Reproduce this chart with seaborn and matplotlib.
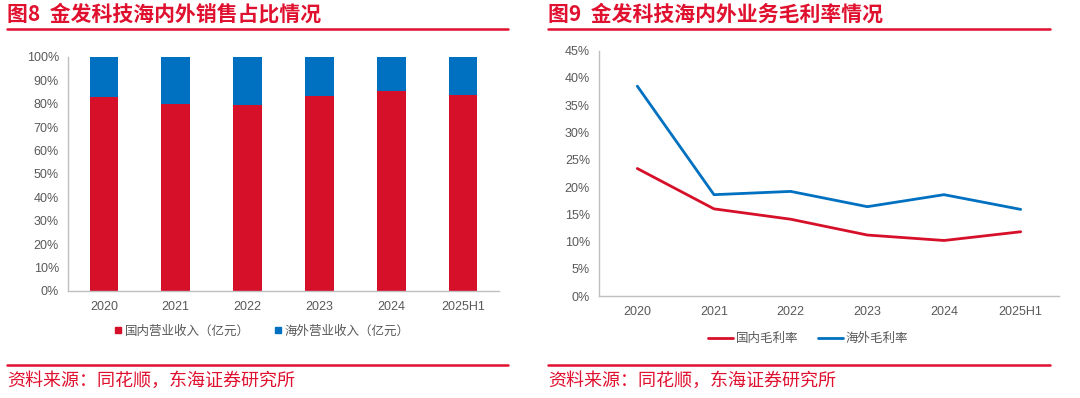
import numpy as np
import pandas as pd
import seaborn as sns
import matplotlib.pyplot as plt
from matplotlib.lines import Line2D
from matplotlib.ticker import FixedLocator, PercentFormatter

years = ["2020", "2021", "2022", "2023", "2024", "2025H1"]

# 图8: share of sales (%)
domestic_share = [82.9, 79.7, 79.4, 83.3, 85.3, 83.8]
overseas_share = [17.1, 20.3, 20.6, 16.7, 14.7, 16.2]

# 图9: gross margin (%)
domestic_margin = [23.4, 16.0, 14.1, 11.2, 10.2, 11.8]
overseas_margin = [38.5, 18.6, 19.2, 16.4, 18.6, 15.9]

RED = "#D7102A"
BLUE = "#0070C0"
TITLE_RED = "#E0102F"
GRAY_TXT = "#595959"
AXIS_GRAY = "#BFBFBF"

sns.set_style("white")
plt.rcParams["font.family"] = ["Liberation Sans", "Noto Sans CJK SC", "DejaVu Sans"]
CJK = ["Noto Sans CJK SC", "DejaVu Sans"]

fig = plt.figure(figsize=(10.8, 3.98), dpi=100)
ax1 = fig.add_axes([0.063, 0.269, 0.399, 0.588])
ax2 = fig.add_axes([0.5546, 0.256, 0.426, 0.6166])


def style_axis(ax, n):
    for s in ["top", "right"]:
        ax.spines[s].set_visible(False)
    for s in ["left", "bottom"]:
        ax.spines[s].set_color(AXIS_GRAY)
        ax.spines[s].set_linewidth(1)
    ax.set_xlim(-0.5, n - 0.5)
    ax.xaxis.set_minor_locator(FixedLocator(np.arange(-0.5, n, 1.0)))
    ax.tick_params(axis="x", which="major", length=0, labelsize=9, colors=GRAY_TXT, pad=7)
    ax.tick_params(axis="x", which="minor", length=4, color=AXIS_GRAY, direction="out")
    ax.tick_params(axis="y", length=3, color=AXIS_GRAY, labelsize=9, colors=GRAY_TXT, direction="out")
    ax.set_xlabel("")
    ax.set_ylabel("")


# stacked bars
df_bar = pd.DataFrame({"year": years, "dom": domestic_share, "ovs": overseas_share})
df_bar["total"] = df_bar["dom"] + df_bar["ovs"]
sns.barplot(data=df_bar, x="year", y="total", color=BLUE, width=0.4, saturation=1, ax=ax1, linewidth=0)
sns.barplot(data=df_bar, x="year", y="dom", color=RED, width=0.4, saturation=1, ax=ax1, linewidth=0)
style_axis(ax1, len(years))
ax1.set_ylim(0, 100)
ax1.set_yticks(np.arange(0, 101, 10))
ax1.yaxis.set_major_formatter(PercentFormatter(100, decimals=0))
ax1.legend(handles=[Line2D([], [], ls="", marker="s", ms=5, color=RED, label="国内营业收入（亿元）"),
                    Line2D([], [], ls="", marker="s", ms=5, color=BLUE, label="海外营业收入（亿元）")],
           loc="upper center", bbox_to_anchor=(0.45, -0.095), ncol=2, frameon=False,
           handlelength=0.5, handletextpad=0.3, columnspacing=2.0,
           prop={"family": CJK, "size": 9}, labelcolor=GRAY_TXT)

# lines
df_line = pd.DataFrame({"year": years * 2,
                        "val": domestic_margin + overseas_margin,
                        "series": ["国内毛利率"] * 6 + ["海外毛利率"] * 6})
sns.lineplot(data=df_line, x="year", y="val", hue="series", sort=False,
             palette={"国内毛利率": RED, "海外毛利率": BLUE}, linewidth=2, ax=ax2)
style_axis(ax2, len(years))
ax2.set_ylim(0, 45)
ax2.set_yticks(np.arange(0, 46, 5))
ax2.yaxis.set_major_formatter(PercentFormatter(100, decimals=0))
ax2.legend(loc="upper center", bbox_to_anchor=(0.455, -0.1), ncol=2, frameon=False,
           handlelength=2.0, handletextpad=0.2, columnspacing=1.6,
           prop={"family": CJK, "size": 9}, labelcolor=GRAY_TXT, title=None)

# titles, rules and sources
for x0, x1, title in [(0.0065, 0.470, "图8  金发科技海内外销售占比情况"),
                      (0.5075, 0.972, "图9  金发科技海内外业务毛利率情况")]:
    fig.text(x0, 0.965, title, color=TITLE_RED, fontsize=15, fontweight="bold",
             va="center", family=CJK)
    fig.add_artist(Line2D([x0, x1], [0.928, 0.928], color=TITLE_RED, lw=1.8))
    fig.add_artist(Line2D([x0, x1], [0.083, 0.083], color=TITLE_RED, lw=1.8))
    fig.text(x0, 0.043, "资料来源：同花顺，东海证券研究所", color=TITLE_RED, fontsize=13,
             va="center", family=CJK)

fig.savefig("out.png", dpi=100)
